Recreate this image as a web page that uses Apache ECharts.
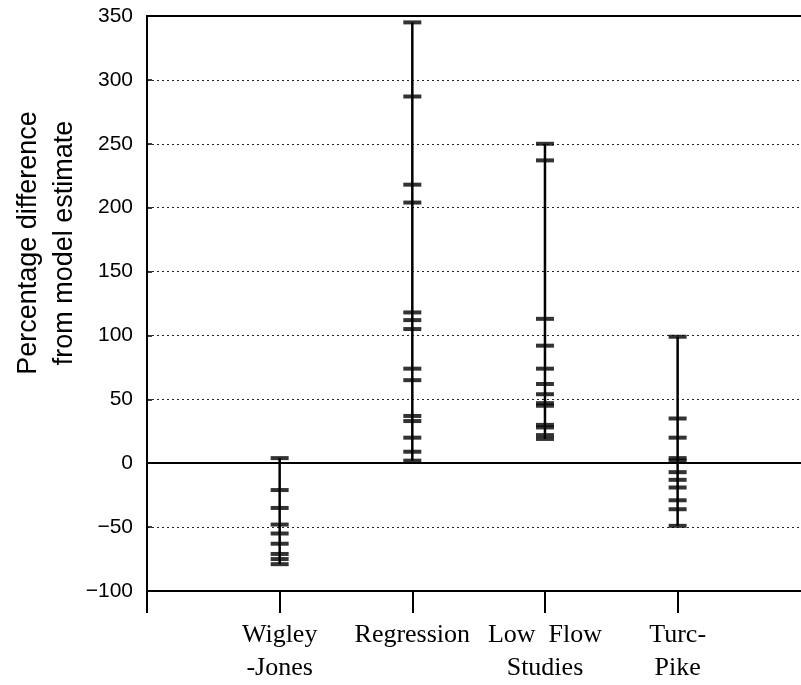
<!DOCTYPE html>
<html>
<head>
<meta charset="utf-8">
<script src="https://cdn.jsdelivr.net/npm/echarts@6/dist/echarts.min.js"></script>
<style>
html,body{margin:0;padding:0;background:#fff;}
#chart{width:801px;height:685px;}
</style>
</head>
<body>
<div id="chart"></div>
<script>
var categories = ['Wigley\n-Jones', 'Regression', 'Low  Flow\nStudies', 'Turc-\nPike'];
var wigleyJones = [4, -21, -35, -48, -55, -63, -71, -75, -79];
var regression = [345, 287, 218, 204, 118, 112, 105, 74, 65, 37, 33, 20, 9, 2];
var lowFlowStudies = [250, 237, 113, 92, 74, 62, 54, 47, 45, 30, 28, 22, 19];
var turcPike = [99, 35, 20, 4, 2, -7, -13, -19, -29, -36, -49];
var yTicks = [-100, -50, 0, 50, 100, 150, 200, 250, 300, 350];
var xTickValues = [0, 1, 2, 3, 4];
var yTitle = 'Percentage difference\nfrom model estimate';

var groups = [wigleyJones, regression, lowFlowStudies, turcPike];
var series = [];
groups.forEach(function (vals, i) {
  var x = i + 1;
  series.push({
    type: 'line',
    data: [[x, Math.min.apply(null, vals)], [x, Math.max.apply(null, vals)]],
    symbol: 'none',
    lineStyle: { color: '#000', width: 2.5 },
    silent: true,
    z: 3
  });
  series.push({
    type: 'scatter',
    data: vals.map(function (v) { return [x, v]; }),
    symbol: 'rect',
    symbolSize: [18, 4],
    itemStyle: { color: '#000' },
    silent: true,
    z: 4
  });
});
series.push({
  type: 'line',
  data: [],
  markLine: {
    silent: true,
    symbol: ['none', 'none'],
    label: { show: false },
    lineStyle: { color: '#000', width: 2, type: 'solid' },
    data: [{ yAxis: 0 }]
  }
});

var chart = echarts.init(document.getElementById('chart'), null, { renderer: 'canvas' });
chart.setOption({
  animation: false,
  backgroundColor: '#fff',
  grid: {
    left: 147, top: 16, right: 0, bottom: 91,
    show: false
  },
  xAxis: [{
    type: 'value',
    min: 0, max: 4.93, interval: 1,
    axisLine: { show: true, onZero: false, lineStyle: { color: '#000', width: 2 } },
    axisTick: { show: true, inside: false, length: 22, customValues: xTickValues, lineStyle: { color: '#000', width: 2 } },
    splitLine: { show: false },
    axisLabel: {
      margin: 28,
      color: '#000',
      fontFamily: 'Liberation Serif',
      fontSize: 26,
      lineHeight: 33,
      customValues: [1, 2, 3, 4],
      formatter: function (v) {
        var i = Math.round(v) - 1;
        return (i >= 0 && i < categories.length) ? categories[i] : '';
      }
    }
  }, {
    type: 'value',
    position: 'top',
    min: 0, max: 4.93,
    axisLine: { show: true, onZero: false, lineStyle: { color: '#000', width: 2 } },
    axisTick: { show: false },
    axisLabel: { show: false },
    splitLine: { show: false }
  }],
  yAxis: {
    type: 'value',
    min: yTicks[0], max: yTicks[yTicks.length - 1], interval: 50,
    axisLine: { show: true, onZero: false, lineStyle: { color: '#000', width: 2 } },
    axisTick: { show: true, inside: true, length: 5, lineStyle: { color: '#000', width: 1.5 } },
    splitLine: { show: true, lineStyle: { color: '#222', width: 1.2, type: [2, 3] } },
    axisLabel: {
      margin: 14,
      color: '#000',
      fontFamily: 'Liberation Sans',
      fontSize: 21,
      formatter: function (v) { return String(v).replace('-', '\u2212'); }
    }
  },
  graphic: [{
    type: 'text',
    x: 47, y: 243,
    rotation: Math.PI / 2,
    style: {
      text: yTitle,
      fontFamily: 'Liberation Sans',
      fontSize: 27,
      lineHeight: 36,
      fill: '#000',
      align: 'center',
      verticalAlign: 'middle'
    }
  }],
  series: series
});
</script>
</body>
</html>
